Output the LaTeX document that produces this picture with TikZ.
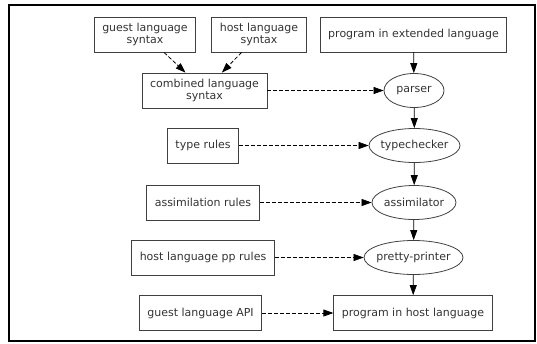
\documentclass[tikz,border=0pt]{standalone}
\usepackage{fontspec}
\setmainfont{DejaVu Sans}
\usetikzlibrary{arrows.meta,shapes.geometric}

\begin{document}
\begin{tikzpicture}[x=1pt, y=-1pt,
                box/.style={draw=black!75, line width=0.8pt, rectangle, inner xsep=8pt, minimum height=35pt, align=center, font=\fontsize{11}{12.7}\selectfont, text=black!80},
                proc/.style={draw=black!75, line width=0.8pt, ellipse, inner xsep=-4pt, inner ysep=0pt, minimum height=34pt, font=\fontsize{11}{12.7}\selectfont, text=black!80},
                flow/.style={-{Triangle[length=10pt,width=7pt]}, line width=0.75pt},
                dep/.style={flow, dash pattern=on 4pt off 2pt}]
                \useasboundingbox (0,0) rectangle (537,343);
                \draw[line width=2pt] (9,5) rectangle (534.5,340.5);
            
                \node[box] (GS) at (145,34.5) {guest language\\syntax};
                \node[box] (HS) at (259,34.5) {host language\\syntax};
                \node[box] (PE) at (413.5,34.5) {program in extended language};
                \node[box] (CS) at (204.5,90.5) {combined language\\syntax};
                \node[box] (TR) at (203,145.5) {type rules};
                \node[box] (AR) at (203,202.5) {assimilation rules};
                \node[box] (PR) at (203,257.5) {host language pp rules};
                \node[box] (GA) at (200.5,313) {guest language API};
                \node[box] (PH) at (413,313) {program in host language};
                
                \node[proc, minimum width=60pt] (PA) at (414,90.5) {parser};
                \node[proc, minimum width=91pt] (TC) at (414.5,145.5) {typechecker};
                \node[proc, minimum width=84pt] (AS) at (414,202.5) {assimilator};
                \node[proc, minimum width=99pt] (PP) at (413.5,257.5) {pretty-printer};
                
                \draw[dep] (GS) -- (CS);
                \draw[dep] (HS) -- (CS);
                \draw[dep] (CS) -- (PA);
                \draw[dep] (TR) -- (TC);
                \draw[dep] (AR) -- (AS);
                \draw[dep] (PR) -- (PP);
                \draw[dep] (GA) -- (PH);
                
                \draw[flow] (PE) -- (PA);
                \draw[flow] (PA) -- (TC);
                \draw[flow] (TC) -- (AS);
                \draw[flow] (AS) -- (PP);
                \draw[flow] (PP) -- (PH);
            \end{tikzpicture}
\end{document}
